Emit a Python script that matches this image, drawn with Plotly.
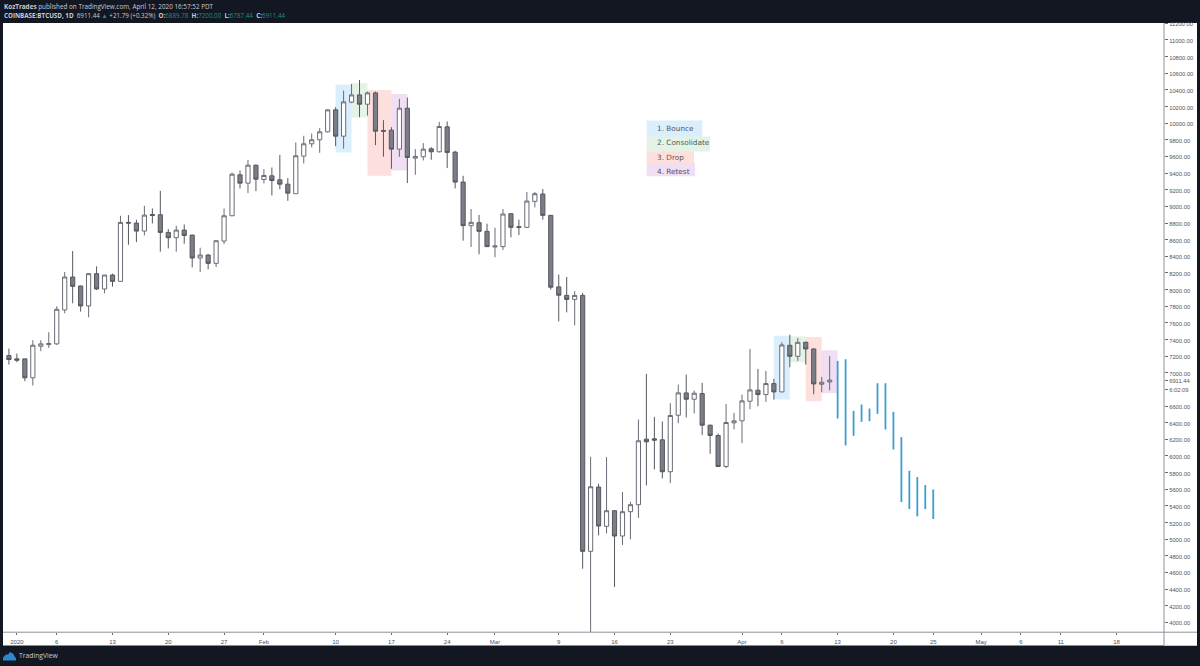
import pandas as pd
import plotly.graph_objects as go

W, H = 1200, 666
ML, MR, MT, MB = 3, 36, 23, 33.5

first_day = "2019-12-31"
open_ = [7207,7167,7167,6939,7319,7339,7347,7755,8151,8043,7803,8191,8007,8175,8099,8807,8799,8703,8903,8899,8687,8623,8715,8655,8379,8415,8315,8583,8887,9379,9279,9495,9323,9367,9319,9267,
         9152,9604,9752,9800,9896,10160,9844,10252,10340,10228,10364,9912,9916,9688,10180,9580,9596,9692,9656,9956,9652,9292,8768,8804,8700,8512,8516,8912,8756,8748,9060,9148,8892,
         8032,7930,7882,7930,4854,5626,5154,5342,5038,5330,5414,6202,6206,6194,5810,6490,6758,6682,6750,6370,6246,5874,6398,6422,6658,6790,6738,6870,6770,7330,7198,7366,7286,6862,6889.78]
high = [7291,7231,7167,7391,7391,7487,7799,8211,8463,8047,8195,8279,8175,8191,8887,8895,8839,9007,8975,9187,8727,8767,8783,8659,8503,8427,8591,8975,9407,9431,9559,9503,9447,9467,9619,9339,
        9768,9848,9876,9940,10168,10192,10392,10472,10520,10380,10380,10036,9952,10292,10308,9688,9760,9712,10016,10020,9668,9368,8968,8896,8792,8744,8968,8920,8840,9172,9172,9208,8896,
        8180,8152,7982,7960,5990,5666,5986,5346,5566,5450,6438,6986,6470,6414,6634,6858,6978,6786,6878,6374,6270,6626,6518,6738,7286,7046,7022,6926,7366,7458,7418,7374,7294,6950,7200]
low = [7099,7127,6899,6847,7259,7299,7335,7715,7835,7735,7667,7995,7955,8035,8095,8539,8571,8651,8795,8455,8495,8455,8551,8267,8211,8243,8271,8547,8883,9215,9159,9183,9275,9131,9207,9067,
       9152,9516,9708,9644,9888,9724,9692,10240,10072,10092,9736,9596,9452,9596,9280,9380,9552,9560,9648,9460,9216,8588,8512,8424,8516,8388,8476,8628,8656,8744,8988,8840,8000,
       7618,7726,7570,4645,3858,5046,5070,4426,4930,4998,5254,5646,5838,5730,5674,6394,6462,6510,6250,6026,5870,5854,6318,6154,6562,6598,6650,6678,6766,7066,7142,7098,6742,6766,6787.44]
close = [7159,7151,6939,7331,7347,7351,7763,8151,8039,7803,8191,8007,8175,8099,8807,8799,8703,8895,8891,8687,8623,8715,8651,8379,8415,8315,8587,8887,9387,9279,9495,9327,9371,9311,9267,9159,
         9608,9752,9800,9896,10160,9844,10256,10340,10228,10364,9904,9904,9688,10180,9588,9600,9688,9656,9960,9648,9292,8768,8808,8700,8516,8524,8908,8748,8748,9064,9152,8892,8028,
         7932,7882,7930,4854,5630,5158,5342,5038,5330,5414,6182,6170,6190,5810,6486,6758,6682,6754,6370,6246,5874,6402,6422,6662,6794,6738,6870,6770,7334,7198,7366,7286,6866,6886,6911.44]

forecast_first_day = "2020-04-13"
forecast_high = [7142,7162,6542,6618,6570,6874,6874,6530,6226,5822,5746,5650,5598]
forecast_low = [6450,6126,6242,6410,6418,6506,6318,6078,5446,5362,5274,5362,5242]

zone_starts = ["2020-02-10","2020-02-12","2020-02-14","2020-02-17","2020-04-05","2020-04-07","2020-04-09","2020-04-11"]
zone_ends   = ["2020-02-12","2020-02-14","2020-02-17","2020-02-19","2020-04-07","2020-04-09","2020-04-11","2020-04-13"]
zone_tops   = [10464,10480,10400,10352,7446,7438,7430,7270]
zone_bots   = [9648,10068,9368,9432,6678,7126,6658,6754]
zone_kinds  = [0,1,2,3,0,1,2,3]
zone_colors = ["rgba(33,150,243,0.16)","rgba(76,175,80,0.15)","rgba(244,67,54,0.17)","rgba(156,39,176,0.15)"]

legend_labels = ["1. Bounce","2. Consolidate","3. Drop","4. Retest"]
legend_text = ["#485868","#4a5f55","#665457","#574a66"]

ytick_vals = list(range(4000, 11400, 200)) + [6911.44]
ytick_text = ["6:02:09" if v == 6800 else f"{v:.2f}" for v in ytick_vals]

xtick_vals = ["2020-01-01","2020-01-06","2020-01-13","2020-01-20","2020-01-27","2020-02-01","2020-02-10","2020-02-17","2020-02-24","2020-03-01","2020-03-09","2020-03-16","2020-03-23","2020-04-01","2020-04-06","2020-04-13","2020-04-20","2020-04-25","2020-05-01","2020-05-06","2020-05-11","2020-05-18"]
xtick_text = ["2020","6","13","20","27","Feb","10","17","24","Mar","9","16","23","Apr","6","13","20","25","May","6","11","18"]

dates = pd.date_range(first_day, periods=len(open_))
f_dates = pd.date_range(forecast_first_day, periods=len(forecast_high))

def px(x): return (x - ML) / (W - ML - MR)
def py(y): return 1 - (y - MT) / (H - MT - MB)

fig = go.Figure()
fig.add_trace(go.Candlestick(
    x=dates, open=open_, high=high, low=low, close=close,
    whiskerwidth=0,
    increasing=dict(fillcolor="#ffffff", line=dict(color="#696c77", width=1)),
    decreasing=dict(fillcolor="#7b7e88", line=dict(color="#55585f", width=1)),
    showlegend=False, hoverinfo="skip"))
fx, fy = [], []
for d, hi, lo in zip(f_dates, forecast_high, forecast_low):
    fx += [d, d, None]
    fy += [hi, lo, None]
fig.add_trace(go.Scatter(x=fx, y=fy, mode="lines", line=dict(color="#3d9dd0", width=1.8),
                         showlegend=False, hoverinfo="skip"))

shapes = []
# white price / time scale panels
for x0, x1, y0, y1 in [(1164, 1197, 23, 646), (3, 1197, 632.5, 646)]:
    shapes.append(dict(type="rect", xref="paper", yref="paper", x0=px(x0), x1=px(x1), y0=py(y0), y1=py(y1),
                       fillcolor="#ffffff", line_width=0, layer="below"))
for s, e, t, b, k in zip(zone_starts, zone_ends, zone_tops, zone_bots, zone_kinds):
    shapes.append(dict(type="rect", xref="x", yref="y", x0=s, x1=e, y0=b, y1=t,
                       fillcolor=zone_colors[k], line_width=0, layer="below"))
# legend boxes
for (x1, y0, y1), k in zip([(702.3, 120.5, 136.5), (710, 136.5, 151.5), (694, 151.5, 163), (695, 163, 176.5)], range(4)):
    shapes.append(dict(type="rect", xref="paper", yref="paper", x0=px(646.7), x1=px(x1), y0=py(y0), y1=py(y1),
                       fillcolor=zone_colors[k], line_width=0, layer="below"))
# scale border lines
shapes.append(dict(type="line", xref="paper", yref="paper", x0=px(1164), x1=px(1164), y0=py(23), y1=py(646),
                   line=dict(color="#8d9099", width=1), layer="above"))
shapes.append(dict(type="line", xref="paper", yref="paper", x0=px(3), x1=px(1197), y0=py(632.7), y1=py(632.7),
                   line=dict(color="#8d9099", width=1), layer="above"))
# TradingView cloud logo
cloud = [(3, 661), (3, 658), (6, 655), (8, 655), (10, 652.5), (13, 654), (16, 659), (16, 661)]
path = "M " + " L ".join(f"{px(a):.5f},{py(b):.5f}" for a, b in cloud) + " Z"
shapes.append(dict(type="path", xref="paper", yref="paper", path=path, fillcolor="#2f86c8", line_width=0, layer="above"))

annotations = []
def note(x, y, text, size, color, family="Open Sans"):
    annotations.append(dict(xref="paper", yref="paper", x=px(x), y=py(y), text=text, showarrow=False,
                            xanchor="left", yanchor="middle", align="left",
                            font=dict(size=size, color=color, family=family), borderpad=0))

note(3, 6.5, "<b>KozTrades</b> published on TradingView.com, April 12, 2020 16:57:52 PDT", 6.35, "#c8cbd3")
teal = "#1f8f86"
note(3, 15.5, "<b>COINBASE:BTCUSD, 1D</b>  6911.44 <span style='color:%s'>▲</span> +21.79 (+0.32%%)  <b>O:</b><span style='color:%s'>6889.78</span>  <b>H:</b><span style='color:%s'>7200.00</span>  <b>L:</b><span style='color:%s'>6787.44</span>  <b>C:</b><span style='color:%s'>6911.44</span>" % (teal, teal, teal, teal, teal), 6.25, "#c8cbd3")
note(18, 656.5, "TradingView", 6.8, "#c8cbd3")
for label, color, y in zip(legend_labels, legend_text, [128.5, 143, 157.5, 172]):
    note(656, y, label, 7.3, color, family="DejaVu Sans")

fig.update_layout(
    width=W, height=H, margin=dict(l=ML, r=MR, t=MT, b=MB, pad=0, autoexpand=False),
    paper_bgcolor="#131722", plot_bgcolor="#ffffff", showlegend=False, boxgap=0.25,
    shapes=shapes, annotations=annotations,
    xaxis=dict(type="date", range=["2019-12-30 06:09", "2020-05-23 23:00"], rangeslider=dict(visible=False),
               tickmode="array", tickvals=xtick_vals, ticktext=xtick_text, showgrid=False, zeroline=False,
               ticks="outside", ticklen=2, tickwidth=1, tickcolor="#6a6d78", showline=False, ticklabelstandoff=2,
               tickfont=dict(size=6, color="#50535e", family="Liberation Sans"), tickangle=0),
    yaxis=dict(side="right", range=[3884, 11204], tickmode="array", tickvals=ytick_vals, ticktext=ytick_text,
               showgrid=False, zeroline=False, ticks="outside", ticklen=3, tickwidth=1, tickcolor="#6a6d78", showline=False,
               ticklabelshift=1,
               tickfont=dict(size=5.8, color="#50535e", family="Liberation Sans")),
)
fig.write_html("out.html", config={"displayModeBar": False},
               post_script="document.body.style.margin='0';document.body.style.background='#131722';")
